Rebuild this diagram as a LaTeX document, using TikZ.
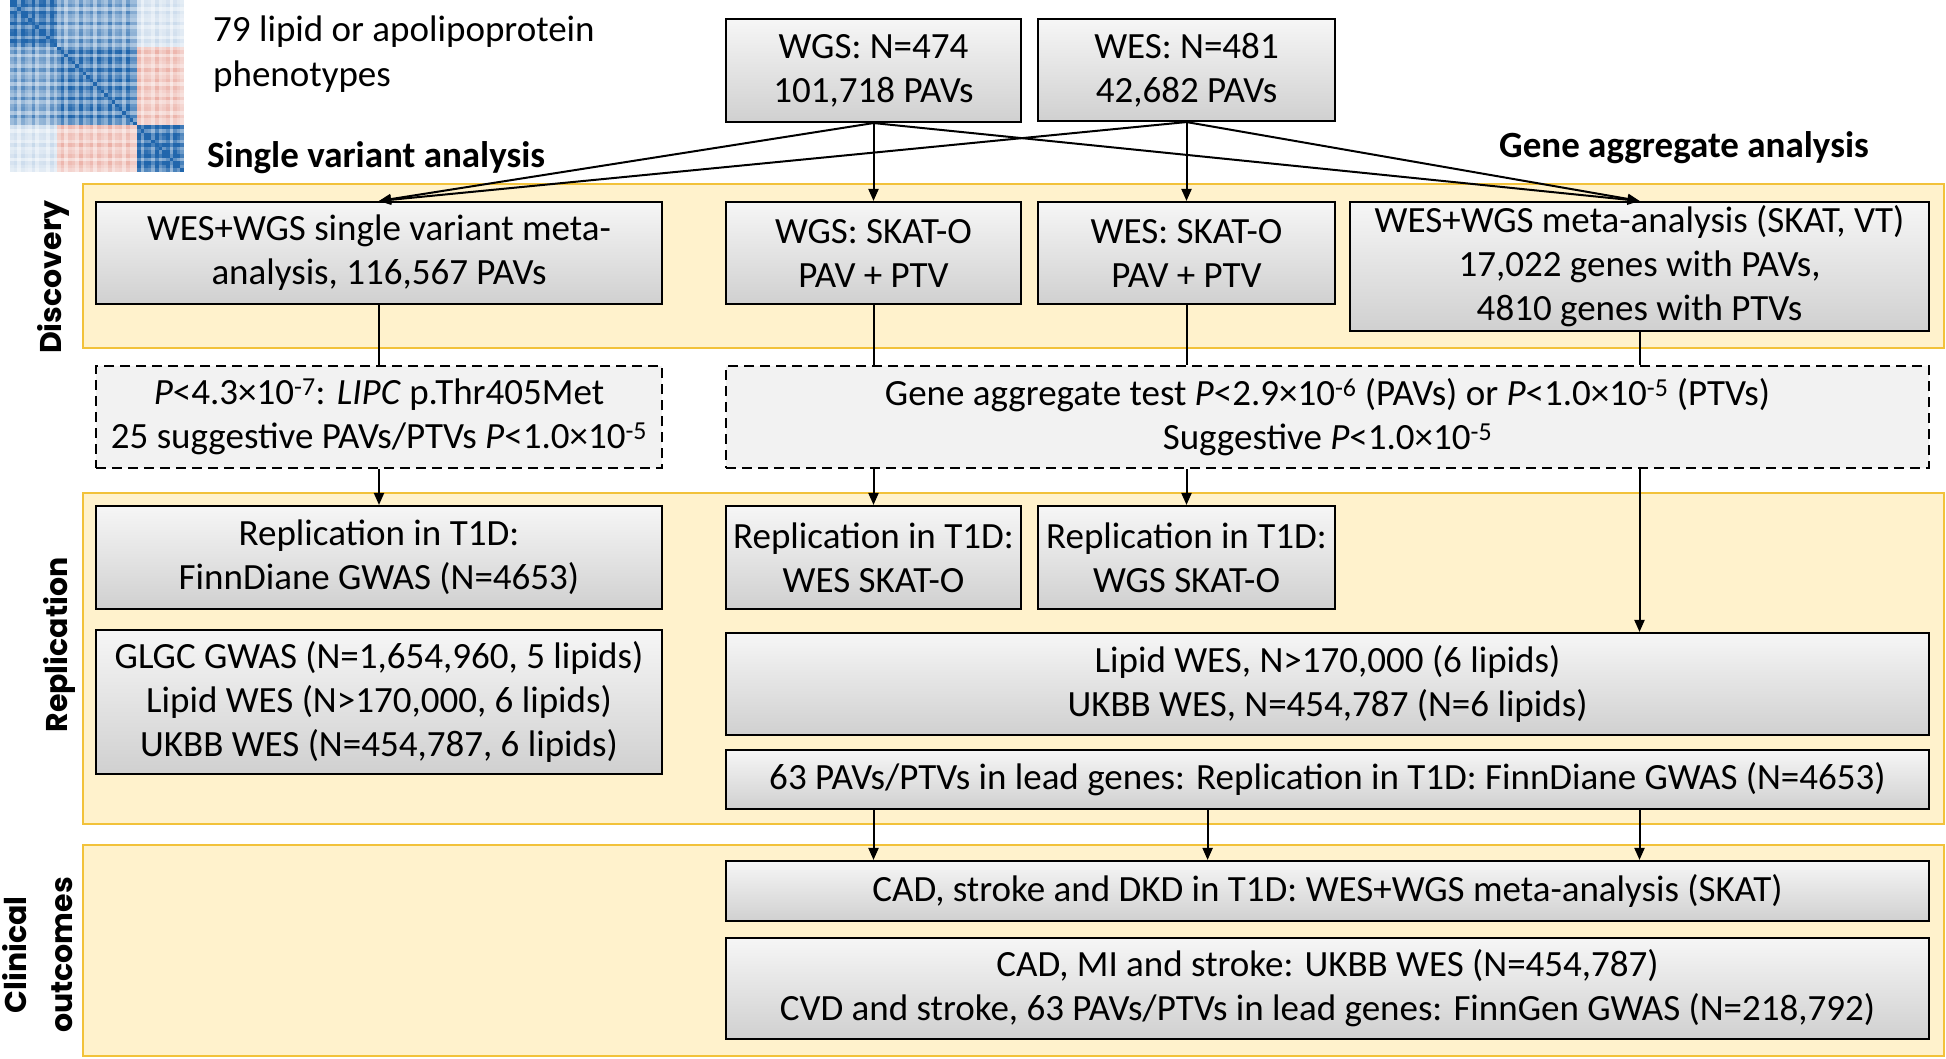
\documentclass[tikz,border=0pt]{standalone}
\usepackage{fontspec}
\setmainfont{Carlito}
\newfontfamily\sidefont{Poppins}
\usetikzlibrary{arrows.meta}
\definecolor{bandfill}{RGB}{255,242,204}
\definecolor{bandline}{RGB}{242,194,58}
\definecolor{boxtop}{RGB}{246,246,246}
\definecolor{boxbot}{RGB}{208,208,208}
\definecolor{dashfill}{RGB}{242,242,242}
\definecolor{hmblue}{RGB}{33,102,172}
\definecolor{hmred}{RGB}{214,96,77}
\newcommand\bxf{\fontsize{37}{44}\selectfont}
\newcommand\sdf{\sidefont\bfseries\fontsize{30}{46}\selectfont}
\tikzset{
  box/.style={draw=black, line width=2.1pt, top color=boxtop, bottom color=boxbot, inner sep=0pt, align=center, font=\bxf},
  dbox/.style={draw=black, line width=2.1pt, dash pattern=on 10pt off 6pt, fill=dashfill, inner sep=0pt, align=center, font=\bxf},
  band/.style={draw=bandline, line width=2.6pt, fill=bandfill, inner sep=0pt},
  arr/.style={line width=2pt, -{Triangle[length=12pt,width=10pt]}},
  ln/.style={line width=2pt},
  sidelabel/.style={rotate=90, align=center, font=\sdf, inner sep=0pt},
  head/.style={font=\bxf\bfseries, anchor=west, inner sep=0pt},
}
\begin{document}
\begin{tikzpicture}[x=1pt,y=-1pt]
\useasboundingbox (0,0) rectangle (1946,1058);
% heatmap
\foreach \i in {0,...,47}{
  \foreach \j in {0,...,47}{
    \pgfmathtruncatemacro{\ci}{\i<13 ? 0 : (\i<35 ? 1 : 2)}
    \pgfmathtruncatemacro{\cj}{\j<13 ? 0 : (\j<35 ? 1 : 2)}
    \pgfmathtruncatemacro{\dd}{abs(\ci-\cj)}
    \pgfmathtruncatemacro{\ss}{\ci+\cj}
    \pgfmathsetmacro{\fai}{1.0+0.3*sin(mod(\i*137,360))}
    \pgfmathsetmacro{\faj}{1.0+0.3*sin(mod(\j*137,360))}
    \pgfmathsetmacro{\bb}{\dd==0 ? (\ci==0 ? 0.85 : (\ci==1 ? 0.72 : 0.85)) : (\dd==2 ? 0.15 : (\ss==1 ? 0.5 : -0.3))}
    \pgfmathsetmacro{\vv}{\i==\j ? 1 : max(-1,min(1,\bb*\fai*\faj))}
    \pgfmathtruncatemacro{\pp}{abs(\vv)*100}
    \pgfmathtruncatemacro{\nn}{\vv<0}
    \ifnum\nn=1 \def\hc{hmred}\else\def\hc{hmblue}\fi
    \fill[\hc!\pp!white] (10+\j*3.625, \i*3.583) rectangle ++(3.625,3.583);
  }
}
% titles
\node[anchor=north west, align=left, font=\fontsize{37}{45}\selectfont, inner sep=0pt] (pheno) at (213,16) {79 lipid or apolipoprotein\\phenotypes};
\node[head] (svhead) at (207,158) {Single variant analysis};
\node[head] (gahead) at (1499,148) {Gene aggregate analysis};
% bands
\node[band, minimum width=1861pt, minimum height=164pt] (discband) at (1013.5,266) {};
\node[band, minimum width=1861pt, minimum height=331pt] (repband) at (1013.5,658.5) {};
\node[band, minimum width=1861pt, minimum height=211pt] (clinband) at (1013.5,950.5) {};
\node[sidelabel] (disclab) at (53,277) {Discovery};
\node[sidelabel] (replab) at (59,645) {Replication};
\node[sidelabel] (clinlab) at (38,955) {Clinical\\outcomes};
% top boxes
\node[box, minimum width=295pt, minimum height=103pt] (wgs) at (873.5,70.5) {WGS: N=474\\101,718 PAVs};
\node[box, minimum width=297pt, minimum height=102pt] (wes) at (1186.5,70) {WES: N=481\\42,682 PAVs};
% discovery
\node[box, minimum width=566pt, minimum height=102pt] (sv) at (379,253) {WES+WGS single variant meta-\\analysis, 116,567 PAVs};
\node[box, minimum width=295pt, minimum height=102pt] (wgsk) at (873.5,253) {WGS: SKAT-O\\PAV + PTV};
\node[box, minimum width=297pt, minimum height=102pt] (wesk) at (1186.5,253) {WES: SKAT-O\\PAV + PTV};
\node[box, minimum width=579pt, minimum height=129pt] (meta) at (1639.5,266.5) {WES+WGS meta-analysis (SKAT, VT)\\17,022 genes with PAVs,\\4810 genes with PTVs};
% thresholds
\node[dbox, minimum width=566pt, minimum height=102pt] (dashL) at (379,417) {\textit{P}<4.3×10\textsuperscript{-7}: \textit{LIPC} p.Thr405Met\\25 suggestive PAVs/PTVs \textit{P}<1.0×10\textsuperscript{-5}};
\node[dbox, minimum width=1203pt, minimum height=102pt] (dashR) at (1327.5,417) {Gene aggregate test \textit{P}<2.9×10\textsuperscript{-6} (PAVs) or \textit{P}<1.0×10\textsuperscript{-5} (PTVs)\\Suggestive \textit{P}<1.0×10\textsuperscript{-5}};
% replication
\node[box, minimum width=566pt, minimum height=103pt] (repL) at (379,557.5) {Replication in T1D:\\FinnDiane GWAS (N=4653)};
\node[box, minimum width=295pt, minimum height=103pt] (repWES) at (873.5,557.5) {Replication in T1D:\\WES SKAT-O};
\node[box, minimum width=297pt, minimum height=103pt] (repWGS) at (1186.5,557.5) {Replication in T1D:\\WGS SKAT-O};
\node[box, minimum width=566pt, minimum height=144pt] (glgc) at (379,702) {GLGC GWAS (N=1,654,960, 5 lipids)\\Lipid WES (N>170,000, 6 lipids)\\UKBB WES (N=454,787, 6 lipids)};
\node[box, minimum width=1203pt, minimum height=102pt] (lipid) at (1327.5,684) {Lipid WES, N>170,000 (6 lipids)\\UKBB WES, N=454,787 (N=6 lipids)};
\node[box, minimum width=1203pt, minimum height=59pt] (sixty) at (1327.5,779.5) {63 PAVs/PTVs in lead genes: Replication in T1D: FinnDiane GWAS (N=4653)};
% clinical
\node[box, minimum width=1203pt, minimum height=60pt] (cad) at (1327.5,891) {CAD, stroke and DKD in T1D: WES+WGS meta-analysis (SKAT)};
\node[box, minimum width=1203pt, minimum height=101pt] (cadmi) at (1327.5,988.5) {CAD, MI and stroke: UKBB WES (N=454,787)\\CVD and stroke, 63 PAVs/PTVs in lead genes: FinnGen GWAS (N=218,792)};
% connectors
\draw[arr] (wgs.south) -- (sv.north);
\draw[arr] (wgs.south) -- (wgsk.north);
\draw[arr] (wgs.south) -- (meta.north);
\draw[arr] (wes.south) -- (sv.north);
\draw[arr] (wes.south) -- (wesk.north);
\draw[arr] (wes.south) -- (meta.north);
\draw[ln] (sv.south) -- (dashL.north);
\draw[arr] (dashL.south) -- (repL.north);
\draw[ln] (wgsk.south) -- (wgsk.south |- dashR.north);
\draw[ln] (wesk.south) -- (wesk.south |- dashR.north);
\draw[ln] (meta.south) -- (meta.south |- dashR.north);
\draw[arr] (dashR.south -| repWES.north) -- (repWES.north);
\draw[arr] (dashR.south -| repWGS.north) -- (repWGS.north);
\draw[arr] (dashR.south -| meta.south) -- (meta.south |- lipid.north);
\coordinate (midcol) at (1207.6,800);
\draw[arr] (sixty.south -| repWES.north) -- (repWES.north |- cad.north);
\draw[arr] (sixty.south -| midcol) -- (midcol |- cad.north);
\draw[arr] (sixty.south -| meta.south) -- (meta.south |- cad.north);
\end{tikzpicture}
\end{document}
